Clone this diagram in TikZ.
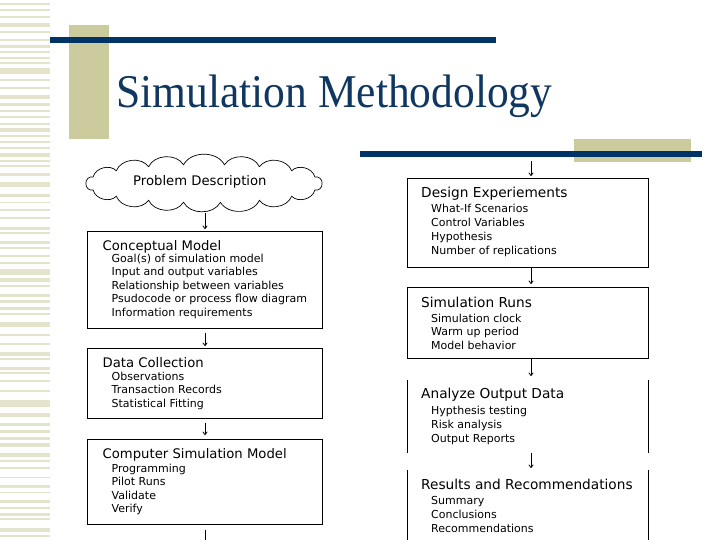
\documentclass[tikz,border=0pt]{standalone}
\usepackage{fontspec}
\setmainfont{DejaVu Sans}
\newfontfamily\titlefont{Liberation Serif}
\usetikzlibrary{arrows.meta,calc}
\definecolor{navy}{RGB}{0,51,102}
\definecolor{tanbox}{RGB}{204,203,158}
\definecolor{stripe}{RGB}{228,227,204}
\definecolor{titleblue}{RGB}{16,55,95}
\begin{document}
\begin{tikzpicture}[x=1pt,y=-1pt,
  box/.style={draw, line width=0.9pt, inner sep=0pt},
  headtxt/.style={inner sep=0pt, anchor=base west, font=\fontsize{13.2}{16}\selectfont},
  rheadtxt/.style={inner sep=0pt, anchor=base west, font=\fontsize{13.7}{16}\selectfont},
  itemtxt/.style={inner sep=0pt, anchor=base west, font=\fontsize{11}{13}\selectfont},
  arr/.style={line width=0.8pt, -{To[length=3.5pt,width=5pt]}},
  plainline/.style={line width=0.8pt},
  cloudline/.style={line width=0.7pt, line join=round}
]
\useasboundingbox (0,0) rectangle (720,540);
\clip (0,0) rectangle (720,540);
\fill[white] (0,0) rectangle (720,540);
% left stripes
\foreach \a/\b in {3/5,9/11,16/18,23/27,31/33,39/41,45/48,51/53,57/59,62/64,68/74,79/81,87/89,95/99,103/106,110/112,116/118,123/125,128/132,135/137,141/143,147/149,153/157,160/162,165/167,173/176,182/187,194/197,202/203,209/211,217/219,227/230,232/234,241/244,247/249,255/257,262/264,269/275,278/282,285/287,294/297,300/303,307/310,313/315,322/327,334/336,343/345,352/356,358/360,367/370,372/374,380/382,390/392,400/407,413/417,423/426,430/433,437/440,443/447,453/457,460/462,467/469,477/478,485/488,492/493,500/503,507/509,513/516,518/520,528/532,535/537}
  \fill[stripe] (0,\a) rectangle (50,\b);
% decorative bars
\fill[tanbox] (69,25) rectangle (109,139);
\fill[navy] (50,37) rectangle (496,43);
\fill[tanbox] (574,139) rectangle (691,162);
\fill[navy] (360,151) rectangle (702,157);
% title
\node[inner sep=0pt, anchor=base west, text=titleblue] (title) at (116,108)
  {\scalebox{1}[1.08]{\titlefont\fontsize{43.5}{50}\selectfont Simulation Methodology}};
% cloud
\node[inner sep=0pt, minimum width=240pt, minimum height=53pt] (pd) at (204,183.5) {};
\draw[cloudline] (204+118,183.5)
  \foreach \a in {20,42,62,82,100,118,138,160,180,200,222,242,260,280,298,318,340,360} {
    to[bend left=62] ({204+118*cos(\a)},{183.5+19*sin(\a)})
  };
\node[headtxt] (pdt) at (133,186) {Problem Description};
% left boxes
\node[box, minimum width=235pt, minimum height=97pt, anchor=north west] (cm) at (87,231) {};
\node[headtxt] (cmh) at (102.5,250) {Conceptual Model};
\foreach \t [count=\i] in {Goal(s) of simulation model,Input and output variables,Relationship between variables,Psudocode or process flow diagram,Information requirements}
  \node[itemtxt] (cm\i) at (111.5,{262+(\i-1)*13.5}) {\t};
\node[box, minimum width=235pt, minimum height=70pt, anchor=north west] (dc) at (87,348) {};
\node[headtxt] (dch) at (102.5,367) {Data Collection};
\foreach \t [count=\i] in {Observations,Transaction Records,Statistical Fitting}
  \node[itemtxt] (dc\i) at (111.5,{380+(\i-1)*13.5}) {\t};
\node[box, minimum width=235pt, minimum height=85pt, anchor=north west] (csm) at (87,439) {};
\node[headtxt] (csmh) at (102.5,458) {Computer Simulation Model};
\foreach \t [count=\i] in {Programming,Pilot Runs,Validate,Verify}
  \node[itemtxt] (csm\i) at (111.5,{472+(\i-1)*13.5}) {\t};
\coordinate (csmout) at (205,545);
% right boxes
\node[box, minimum width=241pt, minimum height=89pt, anchor=north west] (de) at (407,178) {};
\node[rheadtxt] (deh) at (421,197) {Design Experiements};
\foreach \t [count=\i] in {What-If Scenarios,Control Variables,Hypothesis,Number of replications}
  \node[itemtxt] (de\i) at (431,{213+(\i-1)*13.8}) {\t};
\node[box, minimum width=241pt, minimum height=71pt, anchor=north west] (sr) at (407,287) {};
\node[rheadtxt] (srh) at (421,307) {Simulation Runs};
\foreach \t [count=\i] in {Simulation clock,Warm up period,Model behavior}
  \node[itemtxt] (sr\i) at (431,{322+(\i-1)*13.6}) {\t};
\node[inner sep=0pt, minimum width=241pt, minimum height=73pt, anchor=north west] (aod) at (407,380) {};
\draw[plainline] (aod.north west) -- (aod.south west);
\draw[plainline] (aod.north east) -- (aod.south east);
\node[rheadtxt] (aodh) at (421,398) {Analyze Output Data};
\foreach \t [count=\i] in {Hypthesis testing,Risk analysis,Output Reports}
  \node[itemtxt] (aod\i) at (431,{414+(\i-1)*14}) {\t};
\node[inner sep=0pt, minimum width=241pt, minimum height=80pt, anchor=north west] (ror) at (407,470) {};
\draw[plainline] (ror.north west) -- (ror.south west);
\draw[plainline] (ror.north east) -- (ror.south east);
\node[rheadtxt] (rorh) at (421,489) {Results and Recommendations};
\foreach \t [count=\i] in {Summary,Conclusions,Recommendations}
  \node[itemtxt] (ror\i) at (431,{504+(\i-1)*14}) {\t};
\coordinate (detop) at (531,161);
% connectors
\draw[arr, shorten <=3pt, shorten >=2pt] (pd.south -| csmout) -- (cm.north -| csmout);
\draw[arr, shorten <=4pt, shorten >=2pt] (cm.south -| csmout) -- (dc.north -| csmout);
\draw[arr, shorten <=4pt, shorten >=4pt] (dc.south -| csmout) -- (csm.north -| csmout);
\draw[plainline, shorten <=5pt] (csm.south -| csmout) -- (csmout);
\draw[arr, shorten >=2pt] (detop) -- (de.north -| detop);
\draw[arr, shorten >=3pt] (de.south -| detop) -- (sr.north -| detop);
\draw[arr, shorten >=4pt] (sr.south -| detop) -- (aod.north -| detop);
\draw[arr, shorten >=2pt] (aod.south -| detop) -- (ror.north -| detop);
\end{tikzpicture}
\end{document}
